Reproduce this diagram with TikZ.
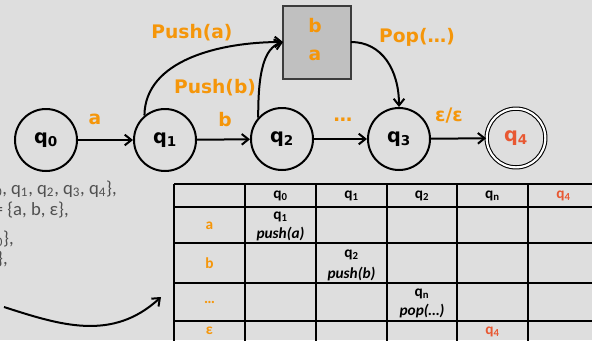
\documentclass[tikz,border=0pt]{standalone}
\usepackage{fontspec}
\setmainfont{DejaVu Sans}
\newfontfamily\cfont{Carlito}
\usetikzlibrary{arrows.meta}
\definecolor{bg}{RGB}{222,222,222}
\definecolor{orng}{RGB}{245,150,10}
\definecolor{rd}{RGB}{232,88,50}
\definecolor{txtgray}{RGB}{80,80,80}
\definecolor{stackfill}{RGB}{192,192,192}
\definecolor{stackline}{RGB}{60,60,60}
\begin{document}
\begin{tikzpicture}[x=0.75pt,y=-0.75pt,
  state/.style={circle, draw, line width=1.5pt, minimum size=46.5pt, inner sep=0pt,
    font=\bfseries\fontsize{14.5}{16}\selectfont},
  lbl/.style={text=orng, font=\bfseries\fontsize{14}{16}\selectfont, inner sep=0pt},
  tr/.style={line width=1.5pt, -{Straight Barb[length=5pt,width=8pt]}},
  tabtxt/.style={font=\cfont\bfseries\fontsize{11.5}{12}\selectfont, inner sep=0pt},
  tabit/.style={font=\cfont\bfseries\itshape\fontsize{11.5}{12}\selectfont, inner sep=0pt},
  rowlbl/.style={tabtxt, text=orng},
  settxt/.style={font=\cfont\fontsize{14}{16}\selectfont, text=txtgray, inner sep=0pt, anchor=base east},
  grid/.style={line width=0.8pt, black}
]
\useasboundingbox (0,0) rectangle (592,340);
\fill[bg] (0,0) rectangle (592,340);
\clip (0,0) rectangle (592,340);

% states
\node[state] (q0) at (46,140) {q\textsubscript{0}};
\node[state] (q1) at (165,140) {q\textsubscript{1}};
\node[state] (q2) at (282,139) {q\textsubscript{2}};
\node[state] (q3) at (399,139) {q\textsubscript{3}};
\node[state, double, double distance=1.6pt, line width=0.8pt, minimum size=44pt, text=rd] (q4) at (516,138) {q\textsubscript{4}};

\draw[tr] (q0) -- (q1);
\draw[tr] (q1) -- (q2);
\draw[tr] (q2) -- (q3);
\draw[tr] (q3) -- (q4);

\node[lbl] (la) at (95,119) {a};
\node[lbl] (lb) at (225,120) {b};
\node[lbl] (ld) at (343,120) {…};
\node[lbl] (le) at (449,116) {ε/ε};

% stack
\node[draw=stackline, fill=stackfill, line width=1pt, minimum width=51pt, minimum height=54.75pt, inner sep=0pt] (stk) at (317,42.5) {};
\node[lbl] (sb) at (315,26) {b};
\node[lbl] (sa) at (315,55) {a};
\coordinate (sin) at (283,42);
\coordinate (sout) at (351,42);

\draw[tr] (q1.130) .. controls (145,60) and (220,42) .. (sin);
\draw[tr] (q2.138) .. controls (258,72) and (264,48) .. (sin);
\draw[tr] (sout) .. controls (382,42) and (399,70) .. (q3.north);

\node[lbl] (pa) at (192,33) {Push(a)};
\node[lbl] (pb) at (215,88) {Push(b)};
\node[lbl] (pp) at (417,37) {Pop(…)};

% set text (cut at left edge, as in the reference)
\node[settxt] (s1) at (117,194) {Q = \{q\textsubscript{0}, q\textsubscript{1}, q\textsubscript{2}, q\textsubscript{3}, q\textsubscript{4}\},};
\node[settxt] (s2) at (69,215) {Σ = \{a, b, ε\},};
\node[settxt] (s3) at (14,244) {S = \{q\textsubscript{0}\},};
\node[settxt] (s4) at (8,264) {F = \{q\textsubscript{4}\},};

% curved arrow to table
\coordinate (cstart) at (4,307);
\coordinate (cend) at (161,297);
\draw[tr] (cstart) .. controls (60,325) and (112,342) .. (cend);

% table
\foreach \x in {174,245,316,387,457,528,599} \draw[grid] (\x,184) -- (\x,360);
\foreach \y in {184,207,243,283,321} \draw[grid] (174,\y) -- (600,\y);

\node[tabtxt] (h0) at (280.5,196) {q\textsubscript{0}};
\node[tabtxt] (h1) at (351.5,196) {q\textsubscript{1}};
\node[tabtxt] (h2) at (422,196) {q\textsubscript{2}};
\node[tabtxt] (h3) at (492.5,196) {q\textsubscript{n}};
\node[tabtxt, text=rd] (h4) at (563.5,196) {q\textsubscript{4}};

\node[rowlbl] (ra) at (209.5,226) {a};
\node[rowlbl] (rb) at (209.5,263) {b};
\node[rowlbl] (rd) at (209.5,302) {…};
\node[rowlbl] (re) at (209.5,331) {ε};

\node[tabtxt] (c1) at (280.5,217) {q\textsubscript{1}};
\node[tabit] (c1b) at (280.5,234) {push(a)};
\node[tabtxt] (c2) at (351.5,255) {q\textsubscript{2}};
\node[tabit] (c2b) at (351.5,274) {push(b)};
\node[tabtxt] (c3) at (422,294) {q\textsubscript{n}};
\node[tabit] (c3b) at (422,311) {pop(…)};
\node[tabtxt, text=rd] (c4) at (492.5,332) {q\textsubscript{4}};
\end{tikzpicture}
\end{document}
